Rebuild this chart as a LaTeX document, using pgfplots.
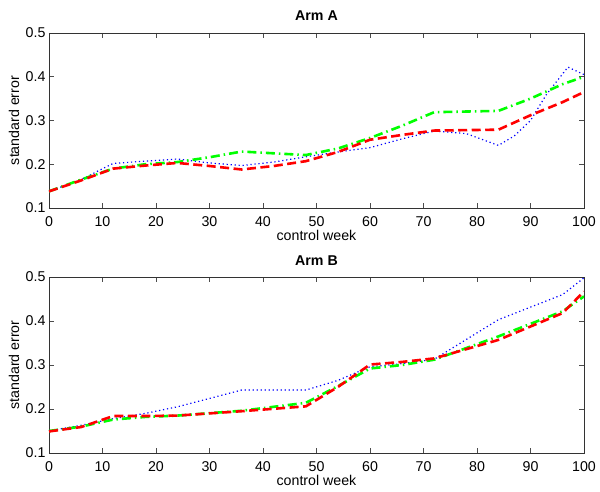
\documentclass[border=0pt]{standalone}
\usepackage{pgfplots}
\pgfplotsset{compat=1.18}
\usepackage{fontspec}
\setmainfont{Liberation Sans}
\definecolor{mblue}{rgb}{0,0,1}
\definecolor{mgreen}{rgb}{0,1,0}
\definecolor{mred}{rgb}{1,0,0}
\newcommand{\chf}{\fontsize{14.2}{17}\selectfont}
\pgfplotsset{
  armaxis/.style={
    scale only axis, width=535pt,
    xmin=0, xmax=100, ymin=0.1, ymax=0.5,
    xtick={0,10,20,30,40,50,60,70,80,90,100},
    ytick={0.1,0.2,0.3,0.4,0.5},
    yticklabels={0.1,0.2,0.3,0.4,0.5},
    tick align=inside, major tick length=5pt,
    /pgf/number format/assume math mode=true,
    tick style={black!70, line width=0.6pt},
    axis line style={black!80, line width=0.8pt},
    every tick label/.append style={font=\chf},
    xticklabel style={anchor=base, yshift=-19pt},
    yticklabel style={xshift=0pt},
    title style={at={(axis description cs:0.5,1)}, anchor=base, yshift=6pt, font=\chf\bfseries},
    xlabel style={at={(axis description cs:0.5,0)}, anchor=base, yshift=-33pt, font=\chf},
    ylabel style={at={(axis description cs:-0.0654,0.5)}, anchor=center, font=\chf},
    xlabel={control week}, ylabel={standard error},
  },
  bl/.style={color=mblue, line width=1.2pt, dash pattern=on 1.2pt off 2.8pt},
  gr/.style={color=mgreen, line width=2.6pt, dash pattern=on 9pt off 4pt on 1.5pt off 4pt},
  rd/.style={color=mred, line width=2.6pt, dash pattern=on 9pt off 4.5pt},
}
\begin{document}
\begin{tikzpicture}
\useasboundingbox (0,0) rectangle (600pt,492pt);
\begin{axis}[armaxis, height=175pt, at={(49pt,284pt)}, anchor=south west, title={Arm A}]
\addplot[bl] coordinates {(0,0.138)(6,0.165)(12,0.202)(18,0.207)(24,0.212)(30,0.203)(36,0.197)(42,0.205)(48,0.217)(54,0.228)(60,0.238)(66,0.258)(72,0.276)(78,0.27)(84,0.243)(87,0.265)(90,0.3)(93,0.36)(97,0.422)(100,0.405)};
\addplot[gr] coordinates {(0,0.138)(6,0.165)(12,0.19)(18,0.2)(24,0.205)(30,0.216)(36,0.229)(42,0.225)(48,0.221)(54,0.236)(60,0.26)(66,0.288)(72,0.319)(84,0.322)(90,0.35)(96,0.383)(100,0.4)};
\addplot[rd] coordinates {(0,0.138)(6,0.163)(12,0.19)(18,0.197)(24,0.203)(30,0.196)(36,0.188)(42,0.196)(48,0.207)(54,0.228)(60,0.256)(66,0.267)(72,0.277)(84,0.279)(90,0.312)(96,0.342)(100,0.365)};
\end{axis}
\begin{axis}[armaxis, height=176pt, at={(49pt,39pt)}, anchor=south west, title={Arm B}]
\addplot[bl] coordinates {(0,0.15)(6,0.163)(12,0.178)(18,0.19)(24,0.205)(30,0.224)(36,0.243)(48,0.243)(54,0.265)(60,0.296)(66,0.303)(72,0.313)(84,0.403)(96,0.46)(100,0.498)};
\addplot[gr] coordinates {(0,0.15)(6,0.16)(12,0.176)(18,0.182)(24,0.185)(36,0.196)(48,0.214)(54,0.252)(60,0.292)(66,0.3)(72,0.312)(84,0.365)(96,0.422)(100,0.456)};
\addplot[rd] coordinates {(0,0.149)(6,0.159)(12,0.184)(18,0.184)(24,0.185)(36,0.195)(48,0.206)(54,0.25)(60,0.301)(66,0.307)(72,0.315)(84,0.357)(96,0.418)(100,0.467)};
\end{axis}
\end{tikzpicture}
\end{document}
